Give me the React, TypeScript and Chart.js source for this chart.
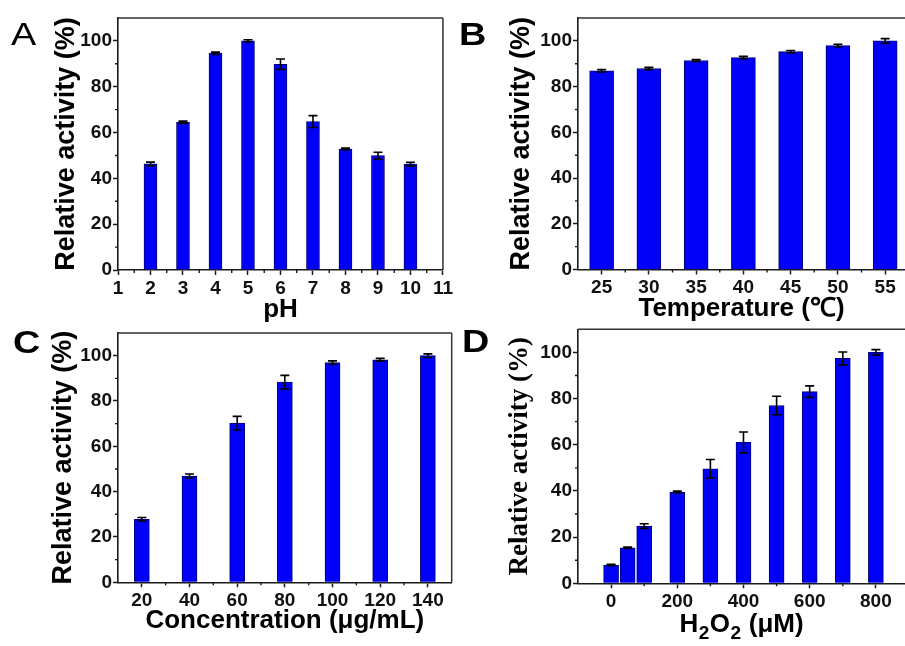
import React, { useEffect, useRef } from 'react';
import { Chart, registerables } from 'chart.js';
Chart.register(...registerables);

// ---------- Panel A: pH ----------
const phValues = [2, 3, 4, 5, 6, 7, 8, 9, 10];
const phActivity = [46.3, 64.5, 94.6, 100, 89.8, 64.8, 52.8, 49.9, 46.2];
const phError = [0.8, 0.5, 0.5, 0.5, 2.3, 2.6, 0.4, 1.5, 0.8];
const phTicks = [1, 2, 3, 4, 5, 6, 7, 8, 9, 10, 11];
const phMinorTicks = [1.5, 2.5, 3.5, 4.5, 5.5, 6.5, 7.5, 8.5, 9.5, 10.5];

// ---------- Panel B: Temperature ----------
const temperatures = [25, 30, 35, 40, 45, 50, 55];
const tempActivity = [86.9, 87.9, 91.4, 92.7, 95.3, 97.9, 100];
const tempError = [0.5, 0.5, 0.4, 0.5, 0.5, 0.6, 1.0];
const tempTicks = [25, 30, 35, 40, 45, 50, 55];
const tempMinorTicks = [27.5, 32.5, 37.5, 42.5, 47.5, 52.5];

// ---------- Panel C: Concentration ----------
const concentrations = [20, 40, 60, 80, 100, 120, 140];
const concActivity = [27.8, 46.9, 70.2, 88.3, 97.0, 98.2, 100];
const concError = [0.8, 0.9, 3.0, 3.0, 0.7, 0.6, 0.8];
const concTicks = [20, 40, 60, 80, 100, 120, 140];
const concMinorTicks = [30, 50, 70, 90, 110, 130];

// ---------- Panel D: H2O2 ----------
const h2o2Levels = [0, 50, 100, 200, 300, 400, 500, 600, 700, 800];
const h2o2Activity = [7.9, 15.4, 24.8, 39.5, 49.6, 61.0, 77.0, 83.0, 97.4, 100];
const h2o2Error = [0.3, 0.3, 1.0, 0.4, 4.0, 4.5, 4.0, 2.5, 2.8, 1.2];
const h2o2Ticks = [0, 200, 400, 600, 800];
const h2o2MinorTicks = [100, 300, 500, 700];

// ---------- Shared y axis ----------
const yTicks = [0, 20, 40, 60, 80, 100];
const yMinorTicks = [10, 30, 50, 70, 90];

const SANS = '"Liberation Sans", Arial, Helvetica, sans-serif';
const SERIF = '"Liberation Serif", "Times New Roman", serif';
const AXIS_COLOR = '#1a1a1a';
const BAR_FILL = '#0000f8';
const BAR_EDGE = '#00007a';

type TitlePart = { text: string; sub?: boolean };

type Panel = {
  letter: string;
  letterWeight: string;
  letterX: number;
  letterY: number;
  left: number;
  top: number;
  width: number;
  height: number;
  areaLeft: number;
  areaTop: number;
  areaRight: number;
  areaBottom: number;
  xs: number[];
  ys: number[];
  errs: number[];
  xMin: number;
  xMax: number;
  xTicks: number[];
  xMinor: number[];
  barThickness: number;
  xTitle: string;
  xTitleParts?: TitlePart[];
  xTitleBaseline?: number;
  xTitlePad: number;
  yTitleFont: string;
  yTitleSize: number;
  yTitlePad: number;
  drawRight: boolean;
};

const panels: Panel[] = [
  {
    letter: 'A', letterWeight: 'normal', letterX: 11, letterY: 45,
    left: 0, top: 0, width: 455, height: 330,
    areaLeft: 118, areaTop: 18, areaRight: 445, areaBottom: 270,
    xs: phValues, ys: phActivity, errs: phError,
    xMin: 1, xMax: 11, xTicks: phTicks, xMinor: phMinorTicks, barThickness: 13,
    xTitle: 'pH', xTitlePad: 5,
    yTitleFont: SANS, yTitleSize: 27, yTitlePad: 50, drawRight: true,
  },
  {
    letter: 'B', letterWeight: 'bold', letterX: 9, letterY: 45,
    left: 450, top: 0, width: 455, height: 330,
    areaLeft: 128, areaTop: 18, areaRight: 455, areaBottom: 269.5,
    xs: temperatures, ys: tempActivity, errs: tempError,
    xMin: 22.5, xMax: 57.1, xTicks: tempTicks, xMinor: tempMinorTicks, barThickness: 24,
    xTitle: 'Temperature (\u2103)', xTitlePad: 6,
    yTitleFont: SANS, yTitleSize: 27, yTitlePad: 55, drawRight: false,
  },
  {
    letter: 'C', letterWeight: 'bold', letterX: 13, letterY: 37,
    left: 0, top: 316, width: 455, height: 330,
    areaLeft: 118, areaTop: 17, areaRight: 451.7, areaBottom: 266.3,
    xs: concentrations, ys: concActivity, errs: concError,
    xMin: 10, xMax: 150, xTicks: concTicks, xMinor: concMinorTicks, barThickness: 15,
    xTitle: 'Concentration (\u03BCg/mL)', xTitlePad: 10,
    yTitleFont: SANS, yTitleSize: 27, yTitlePad: 47, drawRight: true,
  },
  {
    letter: 'D', letterWeight: 'bold', letterX: 12, letterY: 36,
    left: 450, top: 316, width: 455, height: 330,
    areaLeft: 128, areaTop: 13.3, areaRight: 455, areaBottom: 267.3,
    xs: h2o2Levels, ys: h2o2Activity, errs: h2o2Error,
    xMin: -100, xMax: 888, xTicks: h2o2Ticks, xMinor: h2o2MinorTicks, barThickness: 15,
    xTitle: 'H2O2 (\u03BCM)',
    xTitleParts: [
      { text: 'H' },
      { text: '2', sub: true },
      { text: 'O' },
      { text: '2', sub: true },
      { text: ' (\u03BCM)' },
    ],
    xTitleBaseline: 315.5,
    xTitlePad: 8,
    yTitleFont: SERIF, yTitleSize: 27, yTitlePad: 54, drawRight: false,
  },
];

const MAIN_TITLE_FONT = `bold 26px ${SANS}`;
const SUB_TITLE_FONT = `bold 19px ${SANS}`;

const decorPlugin = {
  id: 'panelDecor',
  afterDatasetsDraw(chart: any, _args: any, opts: any) {
    const p: Panel = opts.panel;
    if (!p) return;
    const ctx = chart.ctx;
    const xs = chart.scales.x;
    const ys = chart.scales.y;
    const area = chart.chartArea;
    const meta = chart.getDatasetMeta(0);
    ctx.save();
    // error bars
    ctx.strokeStyle = '#000';
    ctx.lineWidth = 1.6;
    p.ys.forEach((v, i) => {
      const el = meta.data[i];
      if (!el) return;
      const x = el.x;
      const e = Math.max(p.errs[i], 0.3);
      const yTop = ys.getPixelForValue(v + e);
      const yBot = ys.getPixelForValue(v - e);
      const cap = 4.5;
      ctx.beginPath();
      ctx.moveTo(x, yTop);
      ctx.lineTo(x, yBot);
      ctx.moveTo(x - cap, yTop);
      ctx.lineTo(x + cap, yTop);
      ctx.moveTo(x - cap, yBot);
      ctx.lineTo(x + cap, yBot);
      ctx.stroke();
    });
    // frame (top and right)
    ctx.strokeStyle = '#333';
    ctx.lineWidth = 1.5;
    ctx.beginPath();
    ctx.moveTo(area.left, area.top);
    ctx.lineTo(area.right, area.top);
    if (p.drawRight) {
      ctx.moveTo(area.right, area.top);
      ctx.lineTo(area.right, area.bottom);
    }
    ctx.stroke();
    // minor ticks
    ctx.strokeStyle = AXIS_COLOR;
    ctx.lineWidth = 1.4;
    ctx.beginPath();
    p.xMinor.forEach((v) => {
      const px = xs.getPixelForValue(v);
      ctx.moveTo(px, area.bottom);
      ctx.lineTo(px, area.bottom + 3);
    });
    yMinorTicks.forEach((v) => {
      const py = ys.getPixelForValue(v);
      ctx.moveTo(area.left, py);
      ctx.lineTo(area.left - 3, py);
    });
    ctx.stroke();
    // x title with subscripts
    if (p.xTitleParts && p.xTitleBaseline) {
      ctx.fillStyle = '#000';
      ctx.textAlign = 'left';
      ctx.textBaseline = 'alphabetic';
      let total = 0;
      p.xTitleParts.forEach((part) => {
        ctx.font = part.sub ? SUB_TITLE_FONT : MAIN_TITLE_FONT;
        total += ctx.measureText(part.text).width + (part.sub ? 1 : 0);
      });
      let cx = (area.left + area.right) / 2 - total / 2;
      p.xTitleParts.forEach((part) => {
        ctx.font = part.sub ? SUB_TITLE_FONT : MAIN_TITLE_FONT;
        ctx.fillText(part.text, cx + (part.sub ? 0.5 : 0), p.xTitleBaseline! + (part.sub ? 7 : 0));
        cx += ctx.measureText(part.text).width + (part.sub ? 1 : 0);
      });
    }
    // panel letter (slightly wide, as in the original figure)
    ctx.fillStyle = '#000';
    ctx.font = `${p.letterWeight} 31px ${SANS}`;
    ctx.textAlign = 'left';
    ctx.textBaseline = 'alphabetic';
    ctx.translate(p.letterX, p.letterY);
    ctx.scale(1.22, 1);
    ctx.fillText(p.letter, 0, 0);
    ctx.restore();
  },
};

function PanelChart({ panel }: { panel: Panel }) {
  const ref = useRef<HTMLCanvasElement | null>(null);
  useEffect(() => {
    if (!ref.current) return;
    const p = panel;
    const xAxisHeight = p.height - p.areaBottom;
    const chart = new Chart(ref.current, {
      type: 'bar',
      data: {
        datasets: [
          {
            data: p.xs.map((x, i) => ({ x, y: p.ys[i] })),
            backgroundColor: BAR_FILL,
            borderColor: BAR_EDGE,
            borderWidth: 1,
            barThickness: p.barThickness,
          } as any,
        ],
      },
      options: {
        responsive: false,
        animation: false,
        devicePixelRatio: 1,
        layout: {
          padding: { left: 0, top: p.areaTop, right: p.width - p.areaRight, bottom: 0 },
        },
        plugins: {
          legend: { display: false },
          tooltip: { enabled: false },
          panelDecor: { panel: p },
        } as any,
        scales: {
          x: {
            type: 'linear',
            min: p.xMin,
            max: p.xMax,
            offset: false,
            grid: {
              display: true,
              offset: false,
              drawOnChartArea: false,
              drawTicks: true,
              tickLength: 5,
              tickWidth: 1.5,
              tickColor: AXIS_COLOR,
            },
            border: { display: true, color: AXIS_COLOR, width: 1.6 },
            ticks: {
              color: '#111',
              font: { family: SANS, size: 19, weight: 'bold' },
              padding: 2,
              autoSkip: false,
              maxRotation: 0,
              callback: (v: any) => String(v),
            },
            afterBuildTicks: (s: any) => {
              s.ticks = p.xTicks.map((v) => ({ value: v }));
            },
            afterFit: (s: any) => {
              s.height = xAxisHeight;
            },
            title: {
              display: !p.xTitleParts,
              text: p.xTitle,
              color: '#000',
              font: { family: SANS, size: 26, weight: 'bold' },
              padding: { top: 0, bottom: p.xTitlePad },
            },
          } as any,
          y: {
            type: 'linear',
            min: 0,
            max: 110,
            grid: {
              display: true,
              drawOnChartArea: false,
              drawTicks: true,
              tickLength: 5,
              tickWidth: 1.5,
              tickColor: AXIS_COLOR,
            },
            border: { display: true, color: AXIS_COLOR, width: 1.6 },
            ticks: {
              color: '#111',
              font: { family: SANS, size: 19, weight: 'bold' },
              padding: 1,
              autoSkip: false,
              callback: (v: any) => String(v),
            },
            afterBuildTicks: (s: any) => {
              s.ticks = yTicks.map((v) => ({ value: v }));
            },
            afterFit: (s: any) => {
              s.width = p.areaLeft;
            },
            title: {
              display: true,
              text: 'Relative activity (%)',
              color: '#000',
              font: { family: p.yTitleFont, size: p.yTitleSize, weight: 'bold' },
              padding: { top: p.yTitlePad, bottom: 0 },
            },
          } as any,
        },
      },
      plugins: [decorPlugin],
    });
    return () => chart.destroy();
  }, [panel]);
  return (
    <canvas
      ref={ref}
      width={panel.width}
      height={panel.height}
      style={{
        position: 'absolute',
        left: panel.left,
        top: panel.top,
        width: panel.width,
        height: panel.height,
      }}
    />
  );
}

export default function App() {
  return (
    <div
      style={{
        position: 'absolute',
        left: 0,
        top: 0,
        width: 905,
        height: 646,
        overflow: 'hidden',
        background: '#fff',
      }}
    >
      {panels.map((p) => (
        <PanelChart key={p.letter} panel={p} />
      ))}
    </div>
  );
}
